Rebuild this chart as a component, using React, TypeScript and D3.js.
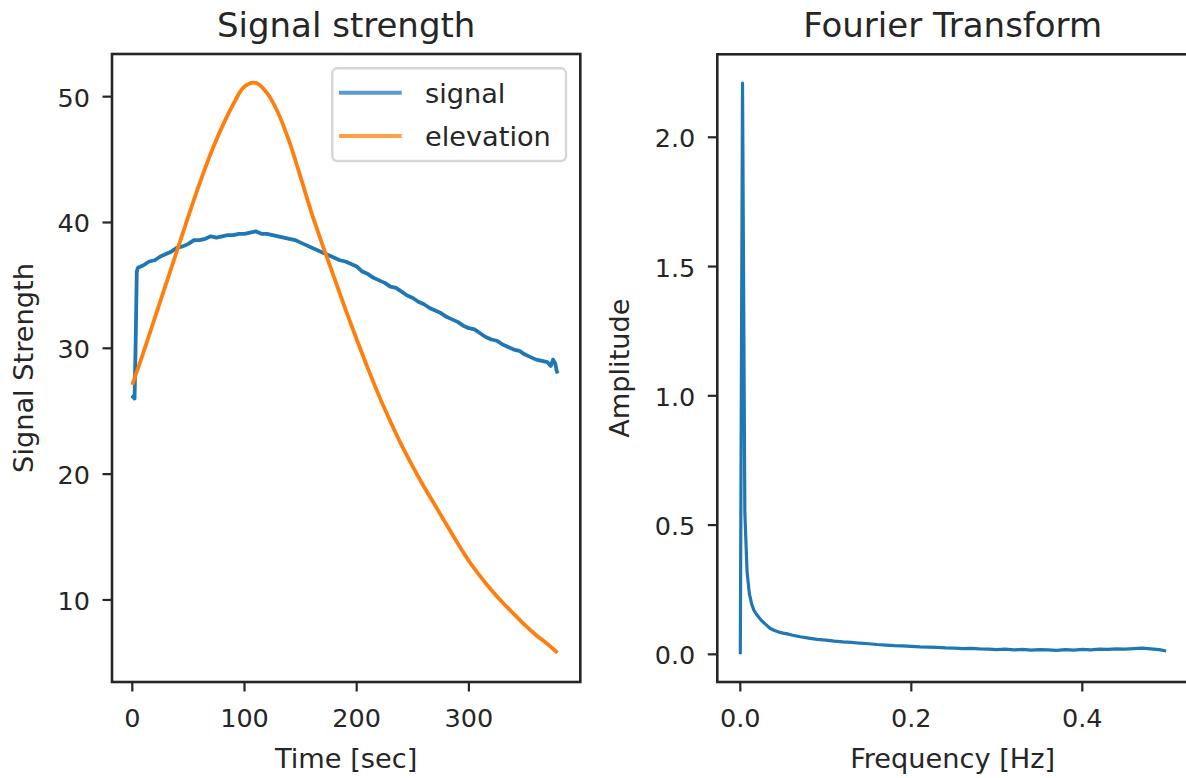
import React from "react";
import * as d3 from "d3";

// ---------- data ----------
const signalTime = [0, 1, 2, 3, 4, 5, 10, 15, 20, 25, 30, 35, 40, 45, 50, 55, 60, 65, 70, 75, 80, 85, 90, 95, 100, 105, 110, 115, 120, 125, 130, 135, 140, 145, 150, 155, 160, 165, 170, 175, 180, 185, 190, 195, 200, 205, 210, 215, 220, 225, 230, 235, 240, 245, 250, 255, 260, 265, 270, 275, 280, 285, 290, 295, 300, 305, 310, 315, 320, 325, 330, 335, 340, 345, 350, 355, 360, 365, 370, 373, 375, 377, 378, 379];
const signalValues = [26.0, 26.2, 26.0, 30.5, 36.1, 36.4, 36.6, 36.9, 37.0, 37.3, 37.5, 37.7, 38.0, 38.1, 38.3, 38.6, 38.6, 38.7, 38.9, 38.8, 38.9, 39.0, 39.0, 39.1, 39.1, 39.2, 39.3, 39.1, 39.1, 39.0, 38.9, 38.8, 38.7, 38.6, 38.4, 38.2, 38.0, 37.8, 37.6, 37.4, 37.2, 37.0, 36.9, 36.7, 36.5, 36.1, 35.9, 35.6, 35.4, 35.2, 34.9, 34.8, 34.5, 34.2, 34.0, 33.7, 33.5, 33.2, 33.0, 32.8, 32.5, 32.3, 32.1, 31.8, 31.6, 31.5, 31.2, 30.9, 30.7, 30.6, 30.3, 30.1, 29.9, 29.8, 29.5, 29.3, 29.1, 29.0, 28.9, 28.6, 29.1, 28.8, 28.3, 28.0];

const elevationTime = [0, 10, 20, 30, 40, 50, 60, 70, 80, 90, 100, 110, 120, 130, 140, 150, 160, 170, 180, 190, 200, 210, 220, 230, 240, 250, 260, 270, 280, 290, 300, 310, 320, 330, 340, 350, 360, 370, 379];
const elevationValues = [27.1, 29.7, 32.4, 35.1, 37.8, 40.5, 43.1, 45.5, 47.6, 49.4, 50.8, 51.1, 50.3, 48.7, 46.4, 43.6, 40.7, 38.1, 35.6, 33.1, 30.7, 28.4, 26.2, 24.2, 22.3, 20.6, 19.0, 17.5, 16.0, 14.5, 13.1, 11.9, 10.8, 9.8, 8.9, 8.0, 7.2, 6.5, 5.8];

const fftFreq = [0.0, 0.0026, 0.0053, 0.0079, 0.0106, 0.0132, 0.016, 0.02, 0.025, 0.03, 0.035, 0.04, 0.045, 0.05, 0.055, 0.06, 0.07, 0.08, 0.09, 0.1, 0.11, 0.12, 0.13, 0.14, 0.15, 0.16, 0.17, 0.18, 0.19, 0.2, 0.21, 0.22, 0.23, 0.24, 0.25, 0.26, 0.27, 0.28, 0.29, 0.3, 0.31, 0.32, 0.33, 0.34, 0.35, 0.36, 0.37, 0.38, 0.39, 0.4, 0.41, 0.42, 0.43, 0.44, 0.45, 0.46, 0.47, 0.48, 0.49, 0.498];
const fftAmp = [0.0, 2.21, 0.55, 0.32, 0.235, 0.195, 0.17, 0.15, 0.13, 0.115, 0.1, 0.092, 0.086, 0.082, 0.079, 0.075, 0.068, 0.063, 0.058, 0.055, 0.051, 0.048, 0.046, 0.043, 0.041, 0.038, 0.036, 0.034, 0.033, 0.031, 0.029, 0.028, 0.027, 0.025, 0.024, 0.022, 0.023, 0.021, 0.02, 0.018, 0.02, 0.017, 0.019, 0.016, 0.018, 0.017, 0.015, 0.018, 0.016, 0.019, 0.017, 0.02, 0.019, 0.021, 0.02, 0.022, 0.024, 0.021, 0.018, 0.013];

const leftXTicks = [0, 100, 200, 300];
const leftYTicks = [10, 20, 30, 40, 50];
const rightXTicks = [0.0, 0.2, 0.4];
const rightYTicks = [0.0, 0.5, 1.0, 1.5, 2.0];

const legendItems = ["signal", "elevation"];

// ---------- styles ----------
const FONT = "'DejaVu Sans', sans-serif";
const BLUE = "#1f77b4";
const ORANGE = "#ff7f0e";
const LEG_BLUE = "#5a9bd0";
const LEG_ORANGE = "#ffa048";
const INK = "#262626";
const TICK_FS = 25.5;
const LABEL_FS = 27.2;
const TITLE_FS = 34;

function Axes({ x, y, xTicks, yTicks, fmt, title, xLabel, yLabel, yLabelX, children }) {
  const [x0, x1] = x.range();
  const [yb, yt] = y.range();
  const cx = (x0 + Math.min(x1, 1188)) / 2;
  return (
    <g>
      {children}
      <rect x={x0} y={yt} width={x1 - x0} height={yb - yt} fill="none" stroke={INK} strokeWidth={2.6} />
      {xTicks.map((t) => (
        <g key={"x" + t}>
          <line x1={x(t)} x2={x(t)} y1={yb} y2={yb + 9.5} stroke={INK} strokeWidth={2.2} />
          <text x={x(t)} y={yb + 45} textAnchor="middle" fontSize={TICK_FS} fontFamily={FONT} fill={INK}>
            {fmt(t)}
          </text>
        </g>
      ))}
      {yTicks.map((t) => (
        <g key={"y" + t}>
          <line x1={x0 - 9.5} x2={x0} y1={y(t)} y2={y(t)} stroke={INK} strokeWidth={2.2} />
          <text x={x0 - 22} y={y(t) + 10} textAnchor="end" fontSize={TICK_FS} fontFamily={FONT} fill={INK}>
            {fmt(t)}
          </text>
        </g>
      ))}
      <text x={cx} y={37} textAnchor="middle" fontSize={TITLE_FS} fontFamily={FONT} fill={INK}>
        {title}
      </text>
      <text x={cx} y={768} textAnchor="middle" fontSize={LABEL_FS} fontFamily={FONT} fill={INK}>
        {xLabel}
      </text>
      <text
        transform={`translate(${yLabelX},${(yb + yt) / 2}) rotate(-90)`}
        textAnchor="middle"
        fontSize={LABEL_FS}
        fontFamily={FONT}
        fill={INK}
      >
        {yLabel}
      </text>
    </g>
  );
}

export default function App() {
  const xL = d3.scaleLinear().domain([-18.1, 399.3]).range([112, 580.3]);
  const yL = d3.scaleLinear().domain([3.48, 53.39]).range([682, 54]);
  const xR = d3.scaleLinear().domain([-0.0269, 0.5236]).range([717.3, 1188]);
  const yR = d3.scaleLinear().domain([-0.107, 2.321]).range([682, 54.3]);

  const signalPts = signalTime.map((t, i) => [t, signalValues[i]]);
  const elevPts = elevationTime.map((t, i) => [t, elevationValues[i]]);
  const fftPts = fftFreq.map((f, i) => [f, fftAmp[i]]);

  const lineL = d3.line().x((d) => xL(d[0])).y((d) => yL(d[1]));
  const elevLine = d3.line().curve(d3.curveCatmullRom.alpha(0.5)).x((d) => xL(d[0])).y((d) => yL(d[1]));
  const lineR = d3.line().x((d) => xR(d[0])).y((d) => yR(d[1]));

  const fmtInt = (v) => d3.format("d")(v);
  const fmt1 = (v) => d3.format(".1f")(v);

  const legX = 332.3;
  const legY = 68.3;
  const legRows = [92.7, 136];

  return (
    <svg
      width={1186}
      height={778}
      viewBox="0 0 1186 778"
      style={{ position: "absolute", left: 0, top: 0, display: "block", background: "#fff" }}
    >
      <rect x={0} y={0} width={1186} height={778} fill="#fff" />
      <defs>
        <clipPath id="clipL">
          <rect x={112} y={54} width={468.3} height={628} />
        </clipPath>
        <clipPath id="clipR">
          <rect x={717.3} y={54.3} width={470.7} height={627.7} />
        </clipPath>
      </defs>

      <Axes
        x={xL}
        y={yL}
        xTicks={leftXTicks}
        yTicks={leftYTicks}
        fmt={fmtInt}
        title="Signal strength"
        xLabel="Time [sec]"
        yLabel="Signal Strength"
        yLabelX={33}
      >
        <g clipPath="url(#clipL)">
          <path d={lineL(signalPts)} fill="none" stroke={BLUE} strokeWidth={3.8} strokeLinejoin="round" />
          <path d={elevLine(elevPts)} fill="none" stroke={ORANGE} strokeWidth={3.8} strokeLinejoin="round" />
        </g>
        <rect x={legX} y={legY} width={233.7} height={92.7} rx={5} fill="#fff" fillOpacity={0.8} stroke="#d6d6d6" strokeWidth={2.4} />
        {legendItems.map((name, i) => (
          <g key={name}>
            <line x1={339} x2={401.7} y1={legRows[i]} y2={legRows[i]} stroke={i === 0 ? LEG_BLUE : LEG_ORANGE} strokeWidth={4} />
            <text x={425} y={legRows[i] + 10} fontSize={LABEL_FS} fontFamily={FONT} fill={INK}>
              {name}
            </text>
          </g>
        ))}
      </Axes>

      <Axes
        x={xR}
        y={yR}
        xTicks={rightXTicks}
        yTicks={rightYTicks}
        fmt={fmt1}
        title="Fourier Transform"
        xLabel="Frequency [Hz]"
        yLabel="Amplitude"
        yLabelX={629}
      >
        <g clipPath="url(#clipR)">
          <path d={lineR(fftPts)} fill="none" stroke={BLUE} strokeWidth={3.2} strokeLinejoin="round" />
        </g>
      </Axes>
    </svg>
  );
}
